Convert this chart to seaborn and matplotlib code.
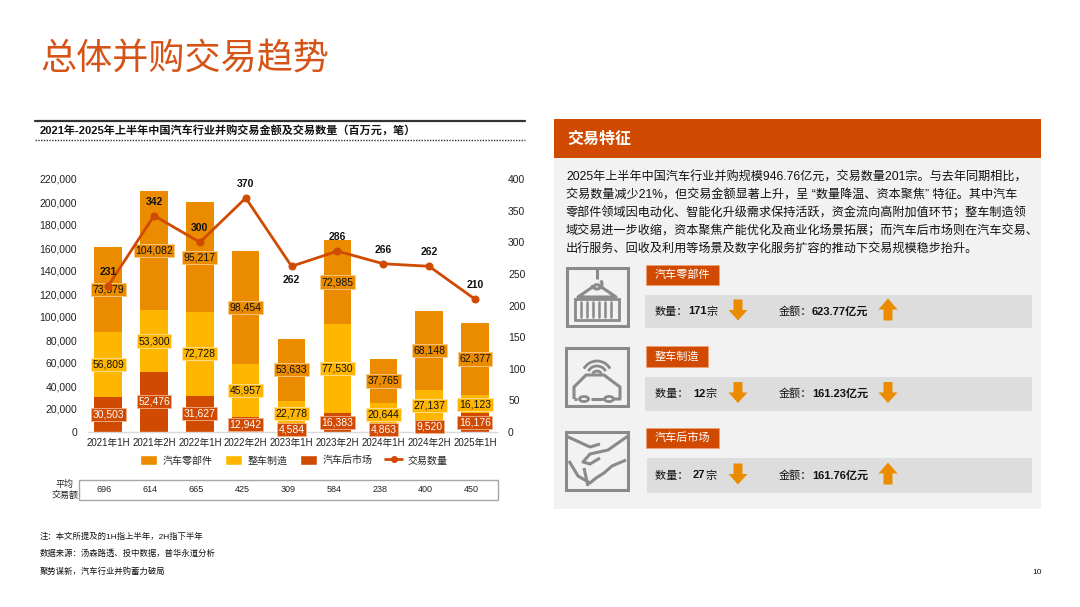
import numpy as np
import pandas as pd
import matplotlib
matplotlib.use("Agg")
import matplotlib.pyplot as plt
import matplotlib.transforms as mtransforms
from matplotlib.patches import Rectangle, Polygon, Arc, Circle
from matplotlib.lines import Line2D
import seaborn as sns

# ---------------- data ----------------
periods = ["2021年1H", "2021年2H", "2022年1H", "2022年2H", "2023年1H",
           "2023年2H", "2024年1H", "2024年2H", "2025年1H"]
aftermarket = [30503, 52476, 31627, 12942, 4584, 16383, 4863, 9520, 16176]
vehicle = [56809, 53300, 72728, 45957, 22778, 77530, 20644, 27137, 16123]
parts = [73579, 104082, 95217, 98454, 53633, 72985, 37765, 68148, 62377]
deal_count = [231, 342, 300, 370, 262, 286, 266, 262, 210]
avg_deal = [696, 614, 665, 425, 309, 584, 238, 400, 450]
series_names = ["汽车零部件", "整车制造", "汽车后市场", "交易数量"]
left_ticks = [0, 20000, 40000, 60000, 80000, 100000, 120000, 140000, 160000, 180000, 200000, 220000]
right_ticks = [0, 50, 100, 150, 200, 250, 300, 350, 400]

C_PARTS = "#EB8C00"
C_VEH = "#FFB600"
C_AFTER = "#D04A02"
C_LINE = "#D04A02"

sns.set_theme(style="white")
plt.rcParams["font.family"] = ["Liberation Sans", "Noto Sans CJK SC", "DejaVu Sans"]

W, H = 1080, 607
fig = plt.figure(figsize=(W / 100, H / 100), dpi=100)
fig.patch.set_facecolor("white")


def fx(x):
    return x / W


def fy(y):
    return 1 - y / H


def rect(x0, y0, x1, y1, **kw):
    fig.patches.append(Rectangle((fx(x0), fy(y1)), (x1 - x0) / W, (y1 - y0) / H,
                                 transform=fig.transFigure, **kw))


def fline(xs, ys, **kw):
    fig.lines.append(Line2D([fx(x) for x in xs], [fy(y) for y in ys],
                            transform=fig.transFigure, **kw))


def txt(x, y, s, **kw):
    kw.setdefault("va", "center")
    fig.text(fx(x), fy(y), s, **kw)


# ---------------- page title ----------------
txt(40, 60, "总体并购交易趋势", fontsize=26, color="#D65317", fontweight="light",
    family=["Noto Sans CJK SC", "DejaVu Sans"])

# chart title with rules
fline([35, 525], [121, 121], color="#333333", lw=1.6)
txt(40, 130, "2021年-2025年上半年中国汽车行业并购交易金额及交易数量（百万元，笔）",
    fontsize=8, fontweight="bold", color="#111111")
fline([35, 525], [140, 140], color="#333333", lw=1.0, ls=(0, (1, 1)))

# ---------------- main chart ----------------
ax_left, ax_right, ax_top, ax_bot = 88, 497, 179, 432
ax = fig.add_axes([fx(ax_left), fy(ax_bot), (ax_right - ax_left) / W, (ax_bot - ax_top) / H])
ax.set_facecolor("none")

df = pd.DataFrame({"period": periods, "after": aftermarket, "veh": vehicle, "parts": parts})
df["lvl2"] = df["after"] + df["veh"]
df["total"] = df["lvl2"] + df["parts"]

sns.barplot(data=df, x="period", y="total", color=C_PARTS, saturation=1, width=0.6,
            errorbar=None, ax=ax, order=periods, linewidth=0)
sns.barplot(data=df, x="period", y="lvl2", color=C_VEH, saturation=1, width=0.6,
            errorbar=None, ax=ax, order=periods, linewidth=0)
sns.barplot(data=df, x="period", y="after", color=C_AFTER, saturation=1, width=0.6,
            errorbar=None, ax=ax, order=periods, linewidth=0)

ax.set_xlim(-0.44, 8.48)
ax.set_ylim(0, 220000)
ax.set_yticks(left_ticks)
ax.set_yticklabels([f"{v:,}" for v in left_ticks], fontsize=7.5, color="#222222")
ax.set_xticks(range(len(periods)))
ax.set_xticklabels(periods, fontsize=7, color="#222222")
ax.set_xlabel("")
ax.set_ylabel("")
ax.tick_params(axis="both", length=0)
ax.tick_params(axis="y", pad=8)
ax.tick_params(axis="x", pad=4)
for s in ["top", "right", "left"]:
    ax.spines[s].set_visible(False)
ax.spines["bottom"].set_color("#D9D9D9")
ax.spines["bottom"].set_linewidth(1.0)

# segment labels
for i in range(len(periods)):
    a, v, p = aftermarket[i], vehicle[i], parts[i]
    ax.text(i, a / 2, f"{a:,}", ha="center", va="center", fontsize=7.5, color="white",
            bbox=dict(boxstyle="square,pad=0.15", fc=C_AFTER, ec="#F2B48F", lw=0.6), zorder=5)
    ax.text(i, a + v / 2, f"{v:,}", ha="center", va="center", fontsize=7.5, color="#111111",
            bbox=dict(boxstyle="square,pad=0.15", fc=C_VEH, ec="#FFE3A0", lw=0.6), zorder=5)
    ax.text(i, a + v + p / 2, f"{p:,}", ha="center", va="center", fontsize=7.5, color="#111111",
            bbox=dict(boxstyle="square,pad=0.15", fc=C_PARTS, ec="#F8CB8C", lw=0.6), zorder=5)

# line on secondary axis
ax2 = ax.twinx()
sns.lineplot(x=np.arange(len(periods)), y=deal_count, ax=ax2, color=C_LINE, lw=2,
             marker="o", markersize=5, markeredgecolor=C_LINE)
ax2.set_ylim(0, 400)
ax2.set_yticks(right_ticks)
ax2.set_yticklabels([str(v) for v in right_ticks], fontsize=7.5, color="#222222")
ax2.tick_params(axis="y", length=0, pad=8)
for s in ["top", "right", "left", "bottom"]:
    ax2.spines[s].set_visible(False)
ax2.set_ylabel("")
for i, c in enumerate(deal_count):
    off = -10 if i == 4 else 10
    ax2.annotate(str(c), (i, c), xytext=(0, off), textcoords="offset points",
                 ha="center", va="center", fontsize=7.5, fontweight="bold", color="#111111",
                 annotation_clip=False)

# legend
handles = [Rectangle((0, 0), 1, 1, fc=C_PARTS), Rectangle((0, 0), 1, 1, fc=C_VEH),
           Rectangle((0, 0), 1, 1, fc=C_AFTER),
           Line2D([0], [0], color=C_LINE, lw=2, marker="o", markersize=4)]
fig.legend(handles, series_names, loc="center", bbox_to_anchor=(fx(294), fy(460)),
           ncol=4, frameon=False, fontsize=7.2, handlelength=1.7, handleheight=1.3,
           columnspacing=1.2, handletextpad=0.6)

# average deal table
rect(79, 480, 498, 500, fc="none", ec="#A6A6A6", lw=1.0)
txt(65, 490, "平均\n交易额", fontsize=6.5, ha="center", linespacing=1.2, color="#222222")
blend = mtransforms.blended_transform_factory(ax.transData, fig.transFigure)
for i, v in enumerate(avg_deal):
    ax.text(i - 0.08, fy(490), str(v), transform=blend, ha="center", va="center",
            fontsize=6.5, color="#222222")

# ---------------- right panel ----------------
rect(554, 158, 1041, 509, fc="#F2F2F2", ec="none")
rect(554, 119, 1041, 158, fc="#D04A02", ec="none")
txt(567, 139, "交易特征", fontsize=11.5, fontweight="bold", color="white")

para = ["2025年上半年中国汽车行业并购规模946.76亿元，交易数量201宗。与去年同期相比，",
        "交易数量减少21%，但交易金额显著上升，呈 “数量降温、资本聚焦” 特征。其中汽车",
        "零部件领域因电动化、智能化升级需求保持活跃，资金流向高附加值环节；整车制造领",
        "域交易进一步收缩，资本聚焦产能优化及商业化场景拓展；而汽车后市场则在汽车交易、",
        "出行服务、回收及利用等场景及数字化服务扩容的推动下交易规模稳步抬升。"]
for k, line in enumerate(para):
    txt(566, 178 + 17.6 * k, line, fontsize=8.7, color="#111111")

GRAY_ICON = "#8A8A8A"


def down_arrow(cx, y0, y1):
    sw, hw = 4.5, 9.5
    ym = y0 + (y1 - y0) * 0.5
    pts = [(cx - sw, y0), (cx + sw, y0), (cx + sw, ym), (cx + hw, ym), (cx, y1),
           (cx - hw, ym), (cx - sw, ym)]
    fig.patches.append(Polygon([(fx(x), fy(y)) for x, y in pts], closed=True,
                               transform=fig.transFigure, fc=C_PARTS, ec="none"))


def up_arrow(cx, y0, y1):
    sw, hw = 4.5, 9.5
    ym = y0 + (y1 - y0) * 0.5
    pts = [(cx - sw, y1), (cx + sw, y1), (cx + sw, ym), (cx + hw, ym), (cx, y0),
           (cx - hw, ym), (cx - sw, ym)]
    fig.patches.append(Polygon([(fx(x), fy(y)) for x, y in pts], closed=True,
                               transform=fig.transFigure, fc=C_PARTS, ec="none"))


sections = [
    dict(tag="汽车零部件", ty=(265, 285), tx1=719, by=(295, 328), bx0=645,
         cnt="数量：", cntv="171", amt="金额：", amtv="623.77亿元", up=True),
    dict(tag="整车制造", ty=(346, 367), tx1=708, by=(377, 411), bx0=645,
         cnt="数量： ", cntv="12", amt="金额：", amtv="161.23亿元", up=False),
    dict(tag="汽车后市场", ty=(428, 448), tx1=719, by=(458, 493), bx0=647,
         cnt="数量： ", cntv="27", amt="金额：", amtv="161.76亿元", up=True),
]
for s in sections:
    rect(646, s["ty"][0], s["tx1"], s["ty"][1], fc="#D04A02", ec="#F0A070", lw=0.6)
    txt((646 + s["tx1"]) / 2, (s["ty"][0] + s["ty"][1]) / 2, s["tag"], fontsize=8,
        color="white", ha="center")
    rect(s["bx0"], s["by"][0], 1032, s["by"][1], fc="#DDDDDD", ec="none")
    yc = (s["by"][0] + s["by"][1]) / 2
    fig.text(fx(655), fy(yc), s["cnt"], fontsize=8, color="#111111", va="center")
    xv = 655 + (33 if s["cnt"] == "数量：" else 38)
    fig.text(fx(xv), fy(yc), s["cntv"], fontsize=8, color="#111111", va="center",
             fontweight="bold")
    nd = len(s["cntv"])
    fig.text(fx(xv + 6.2 * nd), fy(yc), "宗", fontsize=8, color="#111111", va="center")
    down_arrow(738, yc - 12, yc + 9)
    fig.text(fx(779), fy(yc), s["amt"], fontsize=8, color="#111111", va="center")
    fig.text(fx(812), fy(yc), s["amtv"], fontsize=8, color="#111111", va="center",
             fontweight="bold")
    if s["up"]:
        up_arrow(888, yc - 13, yc + 9)
    else:
        down_arrow(888, yc - 12, yc + 9)

# icons
ic = dict(color=GRAY_ICON, lw=2.2, solid_capstyle="butt")
# icon 1: crane + container
rect(567, 268, 628, 326, fc="none", ec=GRAY_ICON, lw=2.2)
fline([597, 597], [268, 279], **ic)
fig.patches.append(Arc((fx(597), fy(284)), 10 / W, 10 / H, theta1=200, theta2=360 + 60,
                       transform=fig.transFigure, color=GRAY_ICON, lw=2.2))
fline([597, 578, 616, 597], [284, 297, 297, 284], **ic)
rect(575, 299, 619, 320, fc="none", ec=GRAY_ICON, lw=2.0)
for xv in [581, 587, 593, 599, 605, 611]:
    fline([xv, xv], [302, 317], color=GRAY_ICON, lw=1.8)
# icon 2: car with wifi
rect(566, 348, 628, 406, fc="none", ec=GRAY_ICON, lw=2.2)
for r in [5, 10, 15]:
    fig.patches.append(Arc((fx(597), fy(376)), 2 * r / W, 2 * r / H, theta1=45, theta2=135,
                           transform=fig.transFigure, color=GRAY_ICON, lw=2.0))
fline([574, 574, 580, 586, 604, 620, 620, 614], [399, 387, 381, 375, 375, 387, 399, 399], **ic)
fline([591, 603], [399, 399], **ic)
fline([574, 577], [399, 399], **ic)
for cx in [584, 609]:
    fig.patches.append(Circle((fx(cx), fy(399)), 4.5 / W, transform=fig.transFigure,
                              fc="#F2F2F2", ec=GRAY_ICON, lw=2.0))
# icon 3: handshake / envelope
rect(566, 432, 628, 490, fc="none", ec=GRAY_ICON, lw=2.2)
fline([566, 590, 600], [436, 447, 444], **ic)
fline([628, 608, 590, 583, 590, 600], [436, 450, 454, 462, 464, 458], **ic)
fline([569, 578, 590, 596, 604, 612, 626], [461, 476, 483, 478, 473, 466, 460], **ic)
fline([584, 588], [468, 486], **ic)

# ---------------- footnotes ----------------
txt(40, 537, "注：本文所提及的1H指上半年，2H指下半年", fontsize=6, color="#111111")
txt(40, 554, "数据来源：汤森路透、投中数据，普华永道分析", fontsize=6, color="#111111")
txt(40, 572, "聚势谋新，汽车行业并购蓄力破局", fontsize=6, color="#111111")
txt(1042, 572, "10", fontsize=6, color="#111111", ha="right")

fig.savefig("out.png", dpi=100, facecolor="white")
